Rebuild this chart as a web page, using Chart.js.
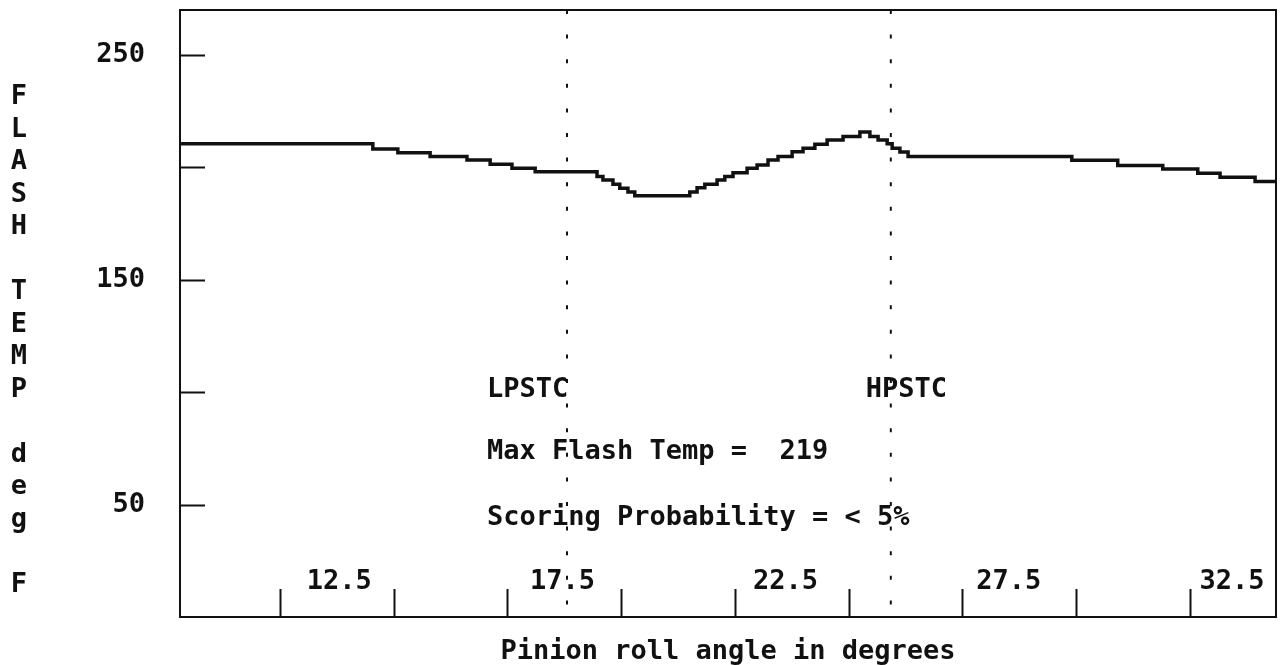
<!DOCTYPE html>
<html>
<head>
<meta charset="utf-8">
<script src="https://cdn.jsdelivr.net/npm/chart.js@4.4.1/dist/chart.umd.min.js"></script>
<style>
  html, body { margin: 0; padding: 0; background: #ffffff; }
  #wrap { width: 1280px; height: 665px; }
</style>
</head>
<body>
<div id="wrap"><canvas id="c" width="1280" height="665"></canvas></div>
<script>
// ---- data ----
const ROLL_ANGLE = [9.00, 13.24, 13.79, 14.50, 15.31, 15.82, 16.30, 16.81, 18.17, 18.30, 18.52, 18.67, 18.85, 19.00,
  20.21, 20.37, 20.54, 20.81, 20.98, 21.16, 21.47, 21.69, 21.93, 22.15, 22.46, 22.70, 22.96, 23.23, 23.58, 23.95,
  24.17, 24.35, 24.55, 24.66, 24.83, 25.01, 28.61, 29.62, 30.61, 31.38, 31.87, 32.64, 33.10];
const FLASH_TEMP = [210.5, 208.2, 206.5, 204.8, 203.3, 201.4, 199.6, 198.0, 195.9, 194.4, 192.5, 190.7, 189.0, 187.4,
  189.1, 190.9, 192.5, 194.4, 195.9, 197.6, 199.6, 201.1, 203.3, 204.8, 207.0, 208.5, 210.3, 212.2, 213.7, 215.7,
  213.7, 212.2, 210.5, 208.5, 206.8, 204.8, 203.2, 200.8, 199.3, 197.4, 195.6, 193.7, 193.7];
const X_TICK_MARKS = [11.2, 13.7, 16.2, 18.7, 21.2, 23.7, 26.2, 28.7, 31.2];
const X_TICK_LABELS = [12.5, 17.5, 22.5, 27.5, 32.5];
const Y_TICK_MARKS = [50, 100, 150, 200, 250];
const Y_TICK_LABELS = [50, 150, 250];
const LPSTC_ANGLE = 17.51;
const HPSTC_ANGLE = 24.63;
const MAX_FLASH_TEMP = 219;
const X_TITLE = 'Pinion roll angle in degrees';
const Y_TITLE = 'FLASH TEMP deg F';
const NOTES = [
  { text: 'LPSTC', x: 15.75, y: 100.9 },
  { text: 'HPSTC', x: 24.08, y: 100.9 },
  { text: 'Max Flash Temp =  ' + MAX_FLASH_TEMP, x: 15.75, y: 73.3 },
  { text: 'Scoring Probability = < 5%', x: 15.75, y: 43.9 }
];

const FONT_FAMILY = '"DejaVu Sans Mono", "Liberation Mono", monospace';
const INK = '#111111';

const framePlugin = {
  id: 'frame',
  beforeDraw(chart) {
    const ctx = chart.ctx;
    ctx.save();
    ctx.fillStyle = '#ffffff';
    ctx.fillRect(0, 0, chart.width, chart.height);
    ctx.restore();
  },
  afterDraw(chart) {
    const ctx = chart.ctx;
    const a = chart.chartArea;
    const xs = chart.scales.x, ys = chart.scales.y;
    ctx.save();
    ctx.strokeStyle = INK;
    ctx.lineWidth = 2;
    ctx.strokeRect(a.left, a.top, a.right - a.left, a.bottom - a.top);
    // inward tick marks
    ctx.beginPath();
    Y_TICK_MARKS.forEach(v => {
      const p = Math.round(ys.getPixelForValue(v)) + 0.5;
      ctx.moveTo(a.left, p); ctx.lineTo(a.left + 25, p);
    });
    X_TICK_MARKS.forEach(v => {
      const p = Math.round(xs.getPixelForValue(v)) + 0.5;
      ctx.moveTo(p, a.bottom); ctx.lineTo(p, a.bottom - 28);
    });
    ctx.stroke();
    // annotations
    ctx.fillStyle = INK;
    ctx.font = 'bold 27px ' + FONT_FAMILY;
    ctx.textAlign = 'left';
    ctx.textBaseline = 'middle';
    NOTES.forEach(n => {
      ctx.fillText(n.text, xs.getPixelForValue(n.x), ys.getPixelForValue(n.y));
    });
    // stacked vertical axis title
    ctx.textAlign = 'center';
    Y_TITLE.split('').forEach((ch, i) => {
      if (ch !== ' ') ctx.fillText(ch, 19, 97 + i * 32.5);
    });
    ctx.restore();
  }
};

const lineData = ROLL_ANGLE.map((x, i) => ({ x: x, y: FLASH_TEMP[i] }));
const vline = (x) => [{ x: x, y: 270 }, { x: x, y: 0 }];
const tickFont = { family: FONT_FAMILY, size: 27, weight: 'bold', lineHeight: 1 };

new Chart(document.getElementById('c'), {
  type: 'line',
  data: {
    datasets: [
      { data: lineData, borderColor: INK, borderWidth: 3.5, pointRadius: 0, stepped: 'before', xAxisID: 'x', yAxisID: 'y' },
      { data: vline(LPSTC_ANGLE), borderColor: INK, borderWidth: 2, borderDash: [4, 20.6], pointRadius: 0, xAxisID: 'x', yAxisID: 'y' },
      { data: vline(HPSTC_ANGLE), borderColor: INK, borderWidth: 2, borderDash: [4, 20.6], pointRadius: 0, xAxisID: 'x', yAxisID: 'y' }
    ]
  },
  options: {
    responsive: false,
    animation: false,
    devicePixelRatio: 1,
    layout: { padding: { top: 10, right: 4, bottom: 0, left: 0 } },
    plugins: { legend: { display: false }, tooltip: { enabled: false } },
    scales: {
      x: {
        type: 'linear', display: false, min: 9, max: 33.1,
        afterBuildTicks: s => { s.ticks = X_TICK_MARKS.map(v => ({ value: v })); }
      },
      xl: {
        type: 'linear', position: 'bottom', min: 8.934, max: 33.485,
        afterBuildTicks: s => { s.ticks = X_TICK_LABELS.map(v => ({ value: v })); },
        ticks: {
          callback: v => Number(v).toFixed(1),
          color: INK, font: tickFont,
          mirror: true, padding: 21.5, maxRotation: 0, minRotation: 0, autoSkip: false
        },
        grid: { display: false, drawTicks: false },
        border: { display: false },
        title: { display: true, text: X_TITLE, color: INK, font: tickFont, padding: 0 },
        afterFit: s => { s.height = 48; s.paddingLeft = 0; s.paddingRight = 0; }
      },
      y: {
        type: 'linear', min: 0, max: 270,
        afterBuildTicks: s => { s.ticks = Y_TICK_MARKS.map(v => ({ value: v })); },
        ticks: {
          callback: v => (Y_TICK_LABELS.includes(v) ? String(v) : ''),
          color: INK, font: tickFont, padding: 35
        },
        grid: { display: false, drawTicks: false },
        border: { display: false },
        afterFit: s => { s.width = 180; s.paddingTop = 0; s.paddingBottom = 0; }
      }
    }
  },
  plugins: [framePlugin]
});
</script>
</body>
</html>
